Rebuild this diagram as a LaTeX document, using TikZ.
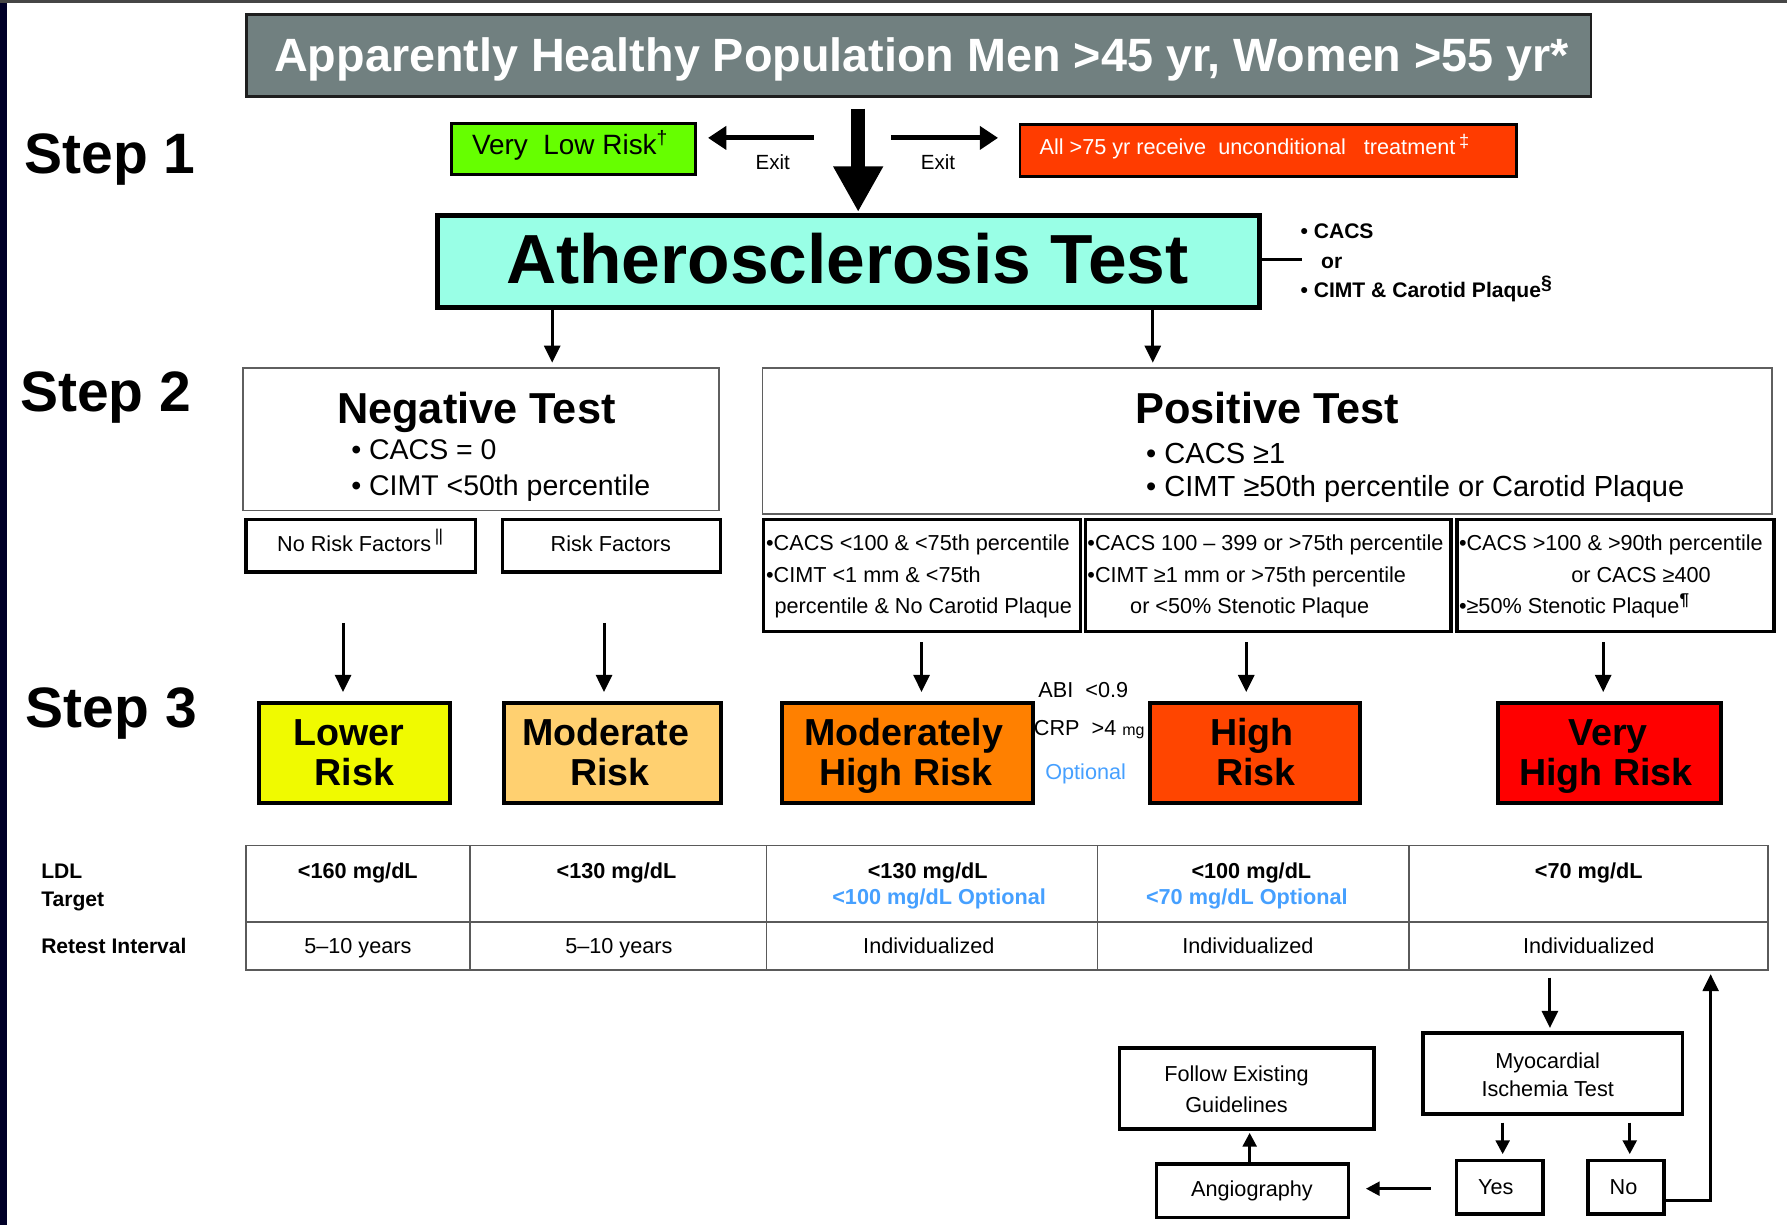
\documentclass[tikz,border=0pt]{standalone}
\usepackage{fontspec}
\setmainfont{Liberation Sans}
\newfontfamily\djv{DejaVu Sans}
\usetikzlibrary{arrows.meta}
\definecolor{navy}{RGB}{0,0,40}
\definecolor{topgray}{RGB}{70,70,70}
\definecolor{titlegray}{RGB}{113,128,128}
\definecolor{titleborder}{RGB}{30,30,30}
\definecolor{vlrgreen}{RGB}{102,255,0}
\definecolor{redbox}{RGB}{255,60,0}
\definecolor{aqua}{RGB}{153,255,230}
\definecolor{lowyellow}{RGB}{240,250,0}
\definecolor{modorange}{RGB}{255,208,112}
\definecolor{mhorange}{RGB}{255,128,0}
\definecolor{highor}{RGB}{255,69,0}
\definecolor{vhred}{RGB}{255,0,0}
\definecolor{optblue}{RGB}{70,160,255}
\definecolor{bordergray}{RGB}{95,95,95}
\definecolor{tblgray}{RGB}{90,90,90}
\newcommand\fsz[1]{\fontsize{#1}{#1}\selectfont}
\tikzset{
  tb/.style={draw=black, line width=2.5pt, inner sep=0pt},
  b3/.style={draw=black, line width=3pt, inner sep=0pt},
  rb/.style={draw=black, line width=3.5pt, inner sep=0pt},
  thinb/.style={draw=bordergray, line width=1.4pt, inner sep=0pt},
  t/.style={inner sep=0pt, anchor=base},
  tl/.style={inner sep=0pt, anchor=base west},
  arr/.style={line width=2.6pt, -{Triangle[length=15pt,width=14pt]}},
  sarr/.style={line width=2.6pt, -{Triangle[length=12pt,width=12pt]}},
  exitarr/.style={line width=4.5pt, -{Triangle[length=16pt,width=20pt]}},
  bigarr/.style={line width=12pt, -{Triangle[length=40pt,width=41pt]}},
  tline/.style={draw=tblgray, line width=1.5pt},
}
\begin{document}
\begin{tikzpicture}[x=1pt,y=-1pt]
\useasboundingbox (0,0) rectangle (1568,1075);
\fill[white] (0,0) rectangle (1568,1075);
\fill[navy] (0,0) rectangle (6,1075);
\fill[topgray] (0,0) rectangle (1568,2.5);

% ---------- Step 1
\node[tb, draw=titleborder, fill=titlegray, minimum width=1180pt, minimum height=72pt] (title) at (806,49) {};
\node[t, font=\fsz{41}\bfseries, text=white] (titletxt) at (808.7,63) {Apparently Healthy Population Men >45 yr, Women >55 yr*};

\node[tl, font=\fsz{50}\bfseries] (s1) at (21.5,152) {Step 1};
\node[tl, font=\fsz{50}\bfseries] (s2) at (17.5,361) {Step 2};
\node[tl, font=\fsz{50}\bfseries] (s3) at (22.5,638) {Step 3};

\node[tb, fill=vlrgreen, minimum width=214pt, minimum height=45pt] (vlr) at (503,130.5) {};
\node[tl, font=\fsz{24.5}] (vlrt) at (414,136) {Very\ \ Low Risk\raisebox{0.38em}{\fsz{17}†}};

\node[tb, fill=redbox, minimum width=436pt, minimum height=46pt] (redb) at (1113,132) {};
\node[tl, font=\fsz{19}, text=white] (redt) at (912,136) {All >75 yr receive\ \ unconditional\ \ \ treatment\,\raisebox{0.35em}{\fsz{16}‡}};

\node[t, font=\fsz{18}] (exit1) at (678,149) {Exit};
\node[t, font=\fsz{18}] (exit2) at (823,149) {Exit};

\coordinate (xl) at (714,121);
\coordinate (xr) at (782,121);
\draw[exitarr, shorten >=10pt] (xl) -- (vlr.east |- xl);
\draw[exitarr, shorten >=18pt] (xr) -- (redb.west |- xr);

\node[draw=black, line width=4pt, fill=aqua, minimum width=721pt, minimum height=81pt, inner sep=0pt] (athero) at (744.5,229.5) {};
\node[t, font=\fsz{61}\bfseries] (atht) at (743.5,248.6) {Atherosclerosis Test};

\draw[bigarr, shorten <=9pt, shorten >=1pt] (title.south -| 753,0) -- (athero.north -| 753,0);

\coordinate (sideend) at (1142,227.5);
\draw[line width=3pt] (athero.east |- sideend) -- (sideend);
\node[tl, font=\fsz{18.5}\bfseries] (side1) at (1141,209) {• CACS};
\node[tl, font=\fsz{18.5}\bfseries] (side2) at (1159,235.5) {or};
\node[tl, font=\fsz{18.5}\bfseries] (side3) at (1141,261) {• CIMT \& Carotid Plaque\raisebox{0.4em}{\fsz{17}§}};

% ---------- Step 2
\node[thinb, minimum width=418pt, minimum height=125pt] (neg) at (422,385.5) {};
\node[t, font=\fsz{38}\bfseries] (negt) at (418,371.4) {Negative Test};
\node[tl, font=\fsz{25}] (neg1) at (308,403.6) {• CACS = 0};
\node[tl, font=\fsz{25}] (neg2) at (308,435) {• CIMT <50th percentile};

\node[thinb, minimum width=886pt, minimum height=128pt] (pos) at (1112,387) {};
\node[t, font=\fsz{38}\bfseries] (post) at (1112,371.5) {Positive Test};
\node[tl, font=\fsz{25.5}] (pos1) at (1005.5,406.6) {• CACS ≥1};
\node[tl, font=\fsz{25.5}] (pos2) at (1005.5,435.8) {• CIMT ≥50th percentile or Carotid Plaque};

\draw[arr, shorten >=4pt] (athero.south -| 484.5,0) -- (neg.north -| 484.5,0);
\draw[arr, shorten >=4pt] (athero.south -| 1011.5,0) -- (pos.north -| 1011.5,0);

\node[b3, minimum width=201pt, minimum height=46pt] (norf) at (316.5,479) {};
\node[tl, font=\fsz{19}] (norft) at (243,484) {No Risk Factors\,\raisebox{0.45em}{\fsz{15}\textbar\kern-0.5pt\textbar}};
\node[b3, minimum width=191pt, minimum height=46pt] (rf) at (536.5,479) {};
\node[t, font=\fsz{19}] (rft) at (536,484) {Risk Factors};

\node[b3, minimum width=278pt, minimum height=98pt] (c1) at (809,505) {};
\node[b3, minimum width=320.5pt, minimum height=98pt] (c2) at (1112.75,505) {};
\node[b3, minimum width=278pt, minimum height=98pt] (c3) at (1417.5,505) {};

\node[tl, font=\fsz{19}] (c1a) at (672,483) {•CACS <100 \& <75th percentile};
\node[tl, font=\fsz{19}] (c1b) at (672,511) {•CIMT <1 mm \& <75th};
\node[tl, font=\fsz{19}] (c1c) at (679.5,538) {percentile \& No Carotid Plaque};
\node[tl, font=\fsz{19}] (c2a) at (954,483) {•CACS 100 – 399 or >75th percentile};
\node[tl, font=\fsz{19}] (c2b) at (954,511) {•CIMT ≥1 mm or >75th percentile};
\node[tl, font=\fsz{19}] (c2c) at (991.5,538) {or <50\% Stenotic Plaque};
\node[tl, font=\fsz{19}] (c3a) at (1280,483) {•CACS >100 \& >90th percentile};
\node[tl, font=\fsz{19}] (c3b) at (1378.5,511) {or CACS ≥400};
\node[tl, font=\fsz{19}] (c3c) at (1280,538) {•≥50\% Stenotic Plaque\raisebox{0.35em}{\fsz{15}\bfseries¶}};

% ---------- Step 3
\node[tl, font=\fsz{19}] (abi) at (911,612) {ABI\ \ <0.9};
\node[tl, font=\fsz{19}] (crp) at (907,645) {CRP\ \ >4 {\fsz{14}mg}};
\node[tl, font=\fsz{19}, text=optblue] (opt) at (917,684) {Optional};

\node[rb, fill=lowyellow, minimum width=168pt, minimum height=88pt] (lower) at (311,661) {};
\node[rb, fill=modorange, minimum width=191pt, minimum height=88pt] (moder) at (537.5,661) {};
\node[rb, fill=mhorange, minimum width=220pt, minimum height=88pt] (mh) at (796,661) {};
\node[rb, fill=highor, minimum width=184pt, minimum height=88pt] (high) at (1101,661) {};
\node[rb, fill=vhred, minimum width=196pt, minimum height=88pt] (vh) at (1412,661) {};

\node[t, font=\fsz{33}\bfseries] (low1) at (306,653.7) {Lower};
\node[t, font=\fsz{33}\bfseries] (low2) at (311,688.8) {Risk};
\node[t, font=\fsz{33}\bfseries] (mod1) at (531.5,653.7) {Moderate};
\node[t, font=\fsz{33}\bfseries] (mod2) at (535,688.8) {Risk};
\node[t, font=\fsz{33}\bfseries] (mh1) at (793,653.7) {Moderately};
\node[t, font=\fsz{33}\bfseries] (mh2) at (795,688.8) {High Risk};
\node[t, font=\fsz{33}\bfseries] (hi1) at (1098.5,653.7) {High};
\node[t, font=\fsz{33}\bfseries] (hi2) at (1102,688.8) {Risk};
\node[t, font=\fsz{33}\bfseries] (vh1) at (1411,653.7) {Very};
\node[t, font=\fsz{33}\bfseries] (vh2) at (1409,688.8) {High Risk};

\draw[arr, shorten <=43pt, shorten >=8pt] (norf.south -| 301,0) -- (lower.north -| 301,0);
\draw[arr, shorten <=43pt, shorten >=8pt] (rf.south -| 530,0) -- (moder.north -| 530,0);
\draw[arr, shorten <=8pt, shorten >=8pt] (c1.south -| 808.6,0) -- (mh.north -| 808.6,0);
\draw[arr, shorten <=8pt, shorten >=8pt] (c2.south -| 1093.5,0) -- (high.north -| 1093.5,0);
\draw[arr, shorten <=8pt, shorten >=8pt] (c3.south -| 1406.7,0) -- (vh.north -| 1406.7,0);

% ---------- Table
\node[tline, minimum width=1335pt, minimum height=109pt, inner sep=0pt] (tbl) at (883.5,796.5) {};
\draw[tline] (216,809) -- (1551,809);
\foreach \xx in {412.5,672.5,963,1236} {\draw[tline] (\xx,742) -- (\xx,851);}

\node[tl, font=\fsz{18.5}\bfseries] (ldl) at (36,770.7) {LDL};
\node[tl, font=\fsz{18.5}\bfseries] (tgt) at (36,795) {Target};
\node[tl, font=\fsz{18.5}\bfseries] (rti) at (36,837) {Retest Interval};

\node[t, font=\fsz{19}\bfseries] (l1) at (314,770.7) {<160 mg/dL};
\node[t, font=\fsz{19}\bfseries] (l2) at (541,770.7) {<130 mg/dL};
\node[t, font=\fsz{19}\bfseries] (l3) at (814,770.7) {<130 mg/dL};
\node[t, font=\fsz{19}\bfseries, text=optblue] (l3b) at (824,794) {<100 mg/dL Optional};
\node[t, font=\fsz{19}\bfseries] (l4) at (1098,770.7) {<100 mg/dL};
\node[t, font=\fsz{19}\bfseries, text=optblue] (l4b) at (1094,794) {<70 mg/dL Optional};
\node[t, font=\fsz{19}\bfseries] (l5) at (1394,770.7) {<70 mg/dL};

\node[t, font=\fsz{19}] (r1) at (314,837) {5–10 years};
\node[t, font=\fsz{19}] (r2) at (543,837) {5–10 years};
\node[t, font=\fsz{19}] (r3) at (815,837) {Individualized};
\node[t, font=\fsz{19}] (r4) at (1095,837) {Individualized};
\node[t, font=\fsz{19}] (r5) at (1394,837) {Individualized};

% ---------- Bottom flow
\node[b3, minimum width=228pt, minimum height=71pt] (myo) at (1362.5,942) {};
\node[t, font=\fsz{19}] (myo1) at (1358,937.4) {Myocardial};
\node[t, font=\fsz{19}] (myo2) at (1358,962.3) {Ischemia Test};

\node[b3, minimum width=76pt, minimum height=47pt] (yes) at (1316,1041.7) {};
\node[t, font=\fsz{19}] (yest) at (1312.5,1048.5) {Yes};
\node[b3, minimum width=66.5pt, minimum height=47pt] (no) at (1426.7,1041.7) {};
\node[t, font=\fsz{19}] (not) at (1424.5,1048.5) {No};

\node[b3, minimum width=168pt, minimum height=47pt] (angio) at (1099,1045) {};
\node[t, font=\fsz{19}] (angiot) at (1098.5,1050) {Angiography};

\node[b3, minimum width=223pt, minimum height=71pt] (follow) at (1094,955) {};
\node[t, font=\fsz{19}] (fol1) at (1085,949) {Follow Existing};
\node[t, font=\fsz{19}] (fol2) at (1085,976.3) {Guidelines};

\draw[arr, shorten <=6pt, shorten >=3pt] (tbl.south -| 1360,0) -- (myo.north -| 1360,0);
\draw[sarr, shorten <=6pt, shorten >=4pt] (myo.south -| 1318.5,0) -- (yes.north -| 1318.5,0);
\draw[sarr, shorten <=6pt, shorten >=4pt] (myo.south -| 1430,0) -- (no.north -| 1430,0);
\coordinate (ret) at (1501,1053);
\draw[arr, shorten >=3pt] (no.east |- ret) -- (ret) -- (tbl.south -| ret);
\draw[sarr, shorten <=21pt, shorten >=14pt] (yes.west |- 0,1043) -- (angio.east |- 0,1043);
\draw[sarr, shorten >=2pt] (angio.north -| 1096.5,0) -- (follow.south -| 1096.5,0);
\end{tikzpicture}
\end{document}
